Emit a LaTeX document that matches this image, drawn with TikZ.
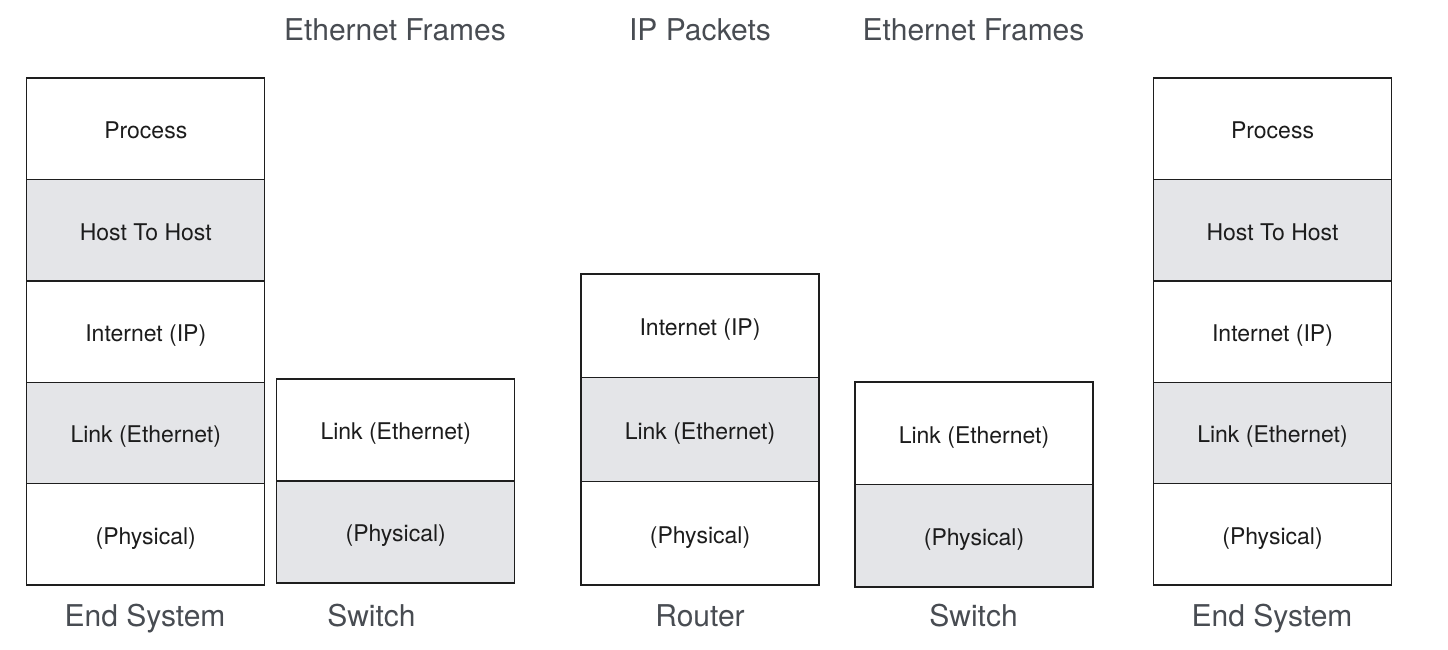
\documentclass[tikz,border=0pt]{standalone}
\usepackage{fontspec}
\setmainfont{TeX Gyre Heros}
\definecolor{labelgrey}{RGB}{72,76,82}
\definecolor{textdark}{RGB}{28,28,28}
\definecolor{layerfill}{RGB}{228,229,232}
\definecolor{edge}{RGB}{30,30,30}
\tikzset{
  layer/.style={draw=edge, line width=1.4pt, rectangle, inner sep=0pt,
    minimum width=238pt, text=textdark,
    font=\fontsize{23}{27}\selectfont, text height=19.8pt, text depth=0pt},
  shaded/.style={layer, fill=layerfill},
  plain/.style={layer, fill=white},
  caption/.style={anchor=base, inner sep=0pt, text=labelgrey,
    font=\fontsize{30}{36}\selectfont}
}
\begin{document}
\begin{tikzpicture}[x=1pt,y=-1pt]
\useasboundingbox (0,0) rectangle (1448,650);
% Left end system
\begin{scope}[every node/.append style={minimum height=101.4pt}]
\node[plain]  (lproc) at (145.75,128.7) {Process};
\node[shaded] (lhost) at (145.75,230.1) {Host To Host};
\node[plain]  (linet) at (145.75,331.5) {Internet (IP)};
\node[shaded] (llink) at (145.75,432.9) {Link (Ethernet)};
\node[plain]  (lphys) at (145.75,534.3) {(Physical)};
% Right end system
\node[plain]  (rproc) at (1272.5,128.7) {Process};
\node[shaded] (rhost) at (1272.5,230.1) {Host To Host};
\node[plain]  (rinet) at (1272.5,331.5) {Internet (IP)};
\node[shaded] (rlink) at (1272.5,432.9) {Link (Ethernet)};
\node[plain]  (rphys) at (1272.5,534.3) {(Physical)};
\end{scope}
% Switch 1
\begin{scope}[every node/.append style={minimum height=102pt}]
\node[plain]  (s1link) at (395.75,430) {Link (Ethernet)};
\node[shaded] (s1phys) at (395.75,532) {(Physical)};
\end{scope}
% Router
\begin{scope}[every node/.append style={minimum height=103.67pt}]
\node[plain]  (rtinet) at (700,325.83) {Internet (IP)};
\node[shaded] (rtlink) at (700,429.5) {Link (Ethernet)};
\node[plain]  (rtphys) at (700,533.17) {(Physical)};
\end{scope}
% Switch 2
\begin{scope}[every node/.append style={minimum height=102.5pt}]
\node[plain]  (s2link) at (974,433.25) {Link (Ethernet)};
\node[shaded] (s2phys) at (974,535.75) {(Physical)};
\end{scope}
% Top captions
\node[caption] (t1) at (395,41) {Ethernet Frames};
\node[caption] (t2) at (700,41) {IP Packets};
\node[caption] (t3) at (973.5,41) {Ethernet Frames};
% Bottom captions
\node[caption] (b1) at (145,626) {End System};
\node[caption] (b2) at (371.5,626) {Switch};
\node[caption] (b3) at (700,626) {Router};
\node[caption] (b4) at (973.5,626) {Switch};
\node[caption] (b5) at (1272,626) {End System};
\end{tikzpicture}
\end{document}
